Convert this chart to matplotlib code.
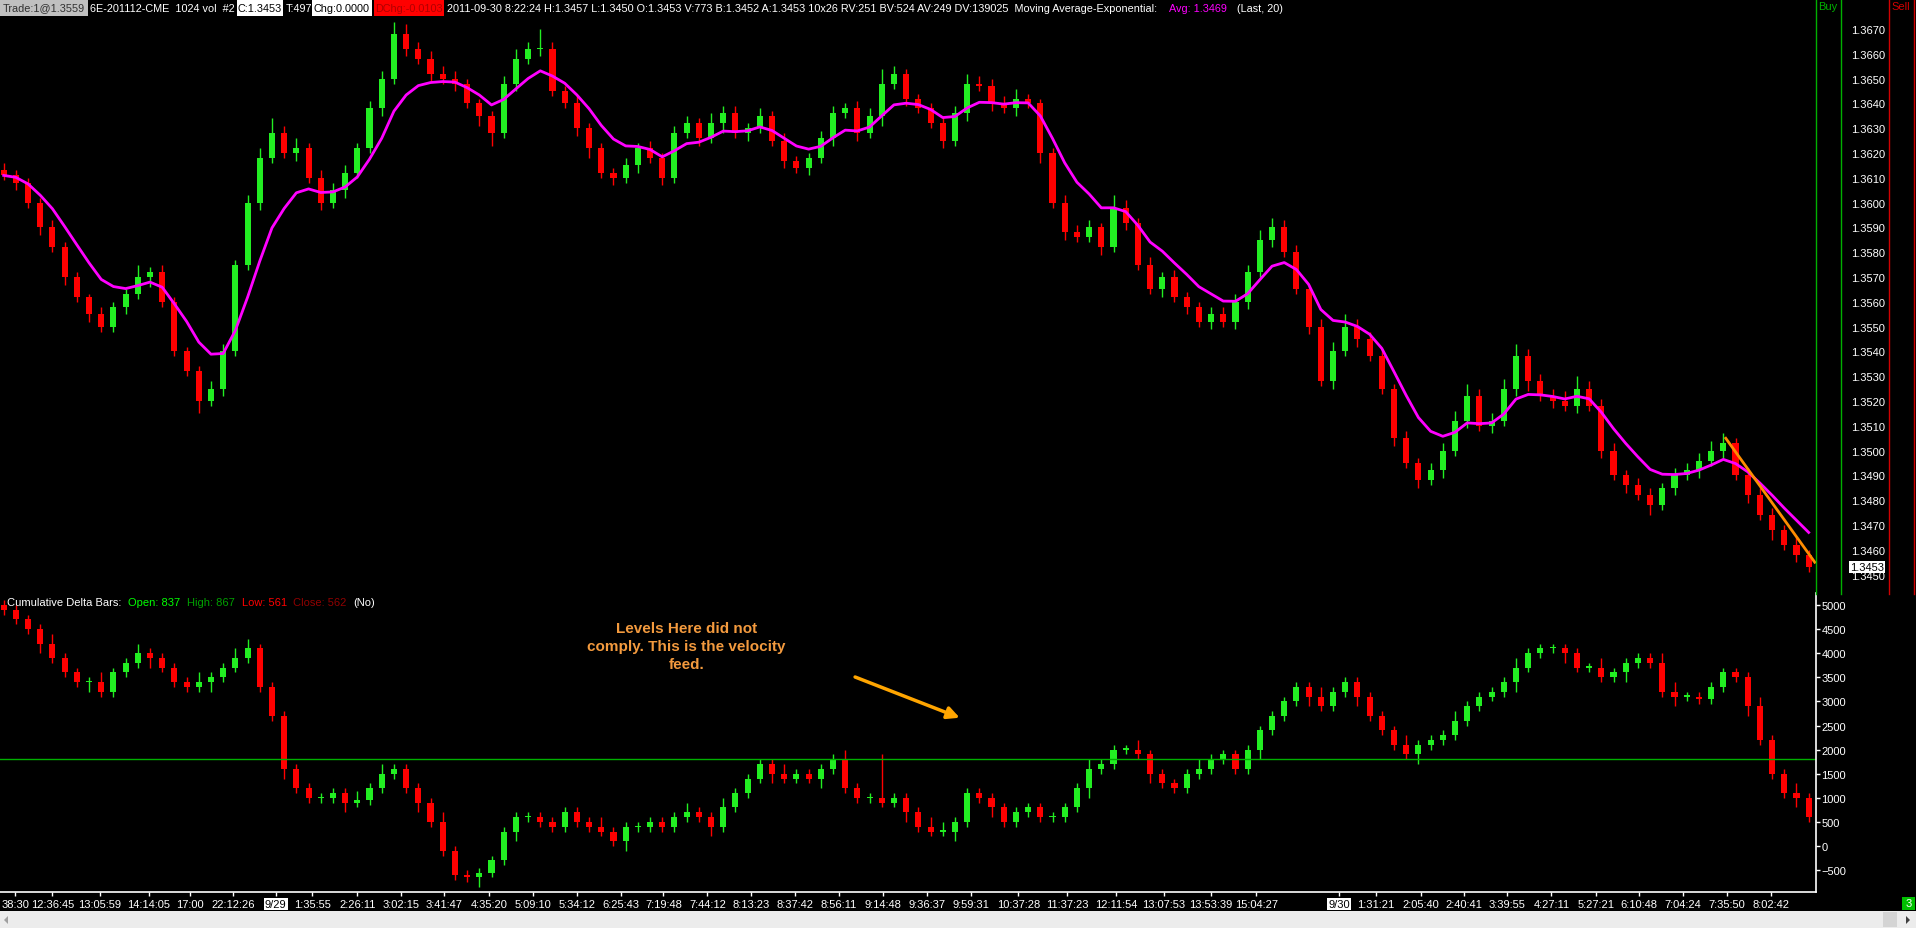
import numpy as np
import pandas as pd
import matplotlib
matplotlib.use('Agg')
import matplotlib.pyplot as plt
from matplotlib.patches import Rectangle, Polygon
from matplotlib.lines import Line2D
from matplotlib.transforms import blended_transform_factory

plt.rcParams['font.family'] = ['Liberation Sans', 'DejaVu Sans']

# 6E price bars, closes in pips above 1.3400 (open = previous close)
price_close = [211, 208, 200, 190, 182, 170, 162, 155, 150, 158,
               163, 170, 172, 160, 140, 132, 120, 125, 140, 175,
               200, 218, 228, 220, 222, 210, 200, 205, 212, 222,
               238, 250, 268, 262, 258, 252, 250, 248, 240, 235,
               228, 248, 258, 262, 262, 245, 240, 230, 222, 212,
               210, 215, 222, 218, 210, 228, 232, 226, 232, 236,
               228, 230, 235, 225, 217, 214, 218, 226, 236, 238,
               228, 235, 248, 252, 242, 238, 232, 225, 236, 248,
               247, 240, 238, 242, 240, 220, 200, 188, 186, 190,
               182, 198, 192, 175, 165, 170, 162, 158, 152, 155,
               152, 160, 172, 185, 190, 180, 165, 150, 128, 140,
               150, 145, 138, 125, 105, 95, 88, 92, 100, 112,
               122, 110, 112, 125, 138, 128, 122, 120, 118, 125,
               118, 100, 90, 86, 82, 78, 85, 90, 92, 96,
               100, 103, 90, 82, 74, 68, 62, 58, 53]
price_first_open = 213
# upper / lower wicks in pips, one digit per bar
price_up = ("3222322132" "2523222332" "3463423332" "3354333322" "2343832322"
            "2323233243" "3232322332" "3363222334" "3334222333" "2532323223"
            "3334433234" "5333232334" "5334533345" "3332332333" "442333232")
price_dn = ("2323232322" "3242225232" "2322323232" "2323232324" "5232322342"
            "3232322324" "2322323232" "3242322323" "2323242322" "3232232323"
            "2332322323" "2322323232" "3232342323" "2323242323" "232324232")

# cumulative delta closes
delta_close = [4900, 4700, 4500, 4200, 3900, 3600, 3400, 3400, 3200, 3600,
               3800, 4000, 3900, 3700, 3400, 3300, 3400, 3500, 3700, 3900,
               4100, 3300, 2700, 1600, 1200, 1000, 1000, 1100, 900, 950,
               1200, 1500, 1600, 1200, 900, 500, -100, -600, -650, -550,
               -300, 300, 600, 600, 500, 400, 700, 500, 400, 300,
               100, 400, 400, 500, 400, 600, 700, 600, 400, 800,
               1100, 1400, 1700, 1500, 1400, 1500, 1400, 1600, 1800, 1200,
               1000, 1000, 900, 1000, 700, 400, 300, 300, 500, 1100,
               1000, 800, 500, 700, 800, 600, 600, 800, 1200, 1600,
               1700, 2000, 2000, 1900, 1500, 1300, 1200, 1500, 1600, 1800,
               1900, 1600, 2000, 2400, 2700, 3000, 3300, 3100, 2900, 3200,
               3400, 3100, 2700, 2400, 2100, 1900, 2100, 2200, 2300, 2600,
               2900, 3100, 3200, 3400, 3700, 4000, 4100, 4100, 4000, 3700,
               3700, 3500, 3600, 3800, 3900, 3800, 3200, 3100, 3100, 3050,
               3300, 3600, 3500, 2900, 2200, 1500, 1100, 1000, 600]
delta_first_open = 5000
# wicks in hundreds
delta_up = ("1111211121" "1211112112" "2111111112" "1211112111" "1111111112"
            "1111112112" "1111211112" "1191112211" "1111111112" "1112111121"
            "1111111121" "1111121112" "1111211111" "1211112211" "111121121")
delta_dn = ("1112111211" "1121111211" "1112111121" "1111211112" "1121111111"
            "1211111121" "1112111211" "1111211121" "1211111112" "1111211111"
            "1112111211" "1211112111" "1111211121" "1112111211" "111211121")

time_labels = ["38:30", "12:36:45", "13:05:59", "14:14:05", "17:00", "22:12:26", "9/29",
               "1:35:55", "2:26:11", "3:02:15", "3:41:47", "4:35:20", "5:09:10", "5:34:12",
               "6:25:43", "7:19:48", "7:44:12", "8:13:23", "8:37:42", "8:56:11", "9:14:48",
               "9:36:37", "9:59:31", "10:37:28", "11:37:23", "12:11:54", "13:07:53",
               "13:53:39", "15:04:27", "9/30", "1:31:21", "2:05:40", "2:40:41", "3:39:55",
               "4:27:11", "5:27:21", "6:10:48", "7:04:24", "7:35:50", "8:02:42"]
time_bars = [0.95, 4.0, 7.9, 11.9, 15.3, 18.8, 22.3, 25.3, 29.0, 32.6, 36.1, 39.8, 43.4,
             47.0, 50.6, 54.1, 57.7, 61.3, 64.9, 68.5, 72.1, 75.7, 79.3, 83.2, 87.2, 91.2,
             95.1, 99.0, 102.7, 109.5, 112.5, 116.2, 119.7, 123.3, 126.9, 130.6, 134.1,
             137.7, 141.3, 144.9]

price_ticks = [1.3450 + 0.001 * k for k in range(23)]
delta_ticks = list(range(-500, 5001, 500))
level = 1800
last_price = 1.3453
trend_x = [141.2, 148.5]
trend_y = [1.3505, 1.3455]
ema_span = 6.7

UP = '#22ee22'
DN = '#ff0000'


def build(close, first_open, up, dn, unit):
    c = np.array(close, dtype=float)
    o = np.r_[first_open, c[:-1]]
    h = np.maximum(o, c) + np.array([int(d) for d in up]) * unit
    l = np.minimum(o, c) - np.array([int(d) for d in dn]) * unit
    return o, c, h, l


def candles(ax, o, c, h, l, minh):
    x = np.arange(len(c))
    col = np.where(c >= o, UP, DN)
    ax.vlines(x, l, h, colors=col, lw=1)
    body = np.maximum(np.abs(c - o), minh)
    ax.bar(x, body, bottom=np.minimum(o, c), width=0.5, color=col, linewidth=0)


W, H = 1916, 929
fig = plt.figure(figsize=(W / 100, H / 100), dpi=100, facecolor='black')


def fx(px):
    return px / W


def fy(py):
    return 1 - py / H


ax1 = fig.add_axes([0, fy(592), fx(1816), (592 - 12) / H], facecolor='black')
ax2 = fig.add_axes([0, fy(893), fx(1816), (893 - 594) / H], facecolor='black')

# price panel
po, pc, ph, pl = build(price_close, price_first_open, price_up, price_dn, 1)
po, pc, ph, pl = [1.34 + v / 10000 for v in (po, pc, ph, pl)]
candles(ax1, po, pc, ph, pl, 0.00003)
ema = pd.Series(pc).ewm(span=ema_span, adjust=False).mean()
ax1.plot(np.arange(len(pc)), ema, color='#ff00ff', lw=2)
ax1.plot(trend_x, trend_y, color='#ff8c00', lw=2)
ax1.set_xlim(-0.3, 148.6)
ax1.set_ylim(1.34434, 1.36773)
for s in ax1.spines.values():
    s.set_visible(False)
ax1.set_xticks([])
ax1.yaxis.tick_right()
ax1.set_yticks(price_ticks)
ax1.set_yticklabels([f"{v:.4f}" for v in price_ticks])
ax1.tick_params(axis='y', length=0, pad=25, labelsize=8, labelcolor='white')
tr = blended_transform_factory(ax1.transAxes, ax1.transData)
ax1.text(1 + 34 / 1816, last_price, f"{last_price:.4f}", transform=tr, ha='left', va='center',
         fontsize=8, color='black',
         bbox=dict(boxstyle='square,pad=0.1', fc='white', ec='none'), clip_on=False)

# delta panel
do, dc, dh, dl = build(delta_close, delta_first_open, delta_up, delta_dn, 100)
candles(ax2, do, dc, dh, dl, 25)
ax2.axhline(level, color='#00b000', lw=1)
ax2.set_xlim(-0.3, 148.6)
ax2.set_ylim(-954, 5249)
for k in ('top', 'left'):
    ax2.spines[k].set_visible(False)
for k in ('right', 'bottom'):
    ax2.spines[k].set_color('white')
    ax2.spines[k].set_linewidth(1.2)
ax2.yaxis.tick_right()
ax2.set_yticks(delta_ticks)
ax2.tick_params(axis='y', colors='white', length=3, width=1, pad=1, labelsize=8)
ax2.set_xticks(time_bars)
ax2.set_xticklabels(time_labels)
ax2.tick_params(axis='x', colors='white', length=3, width=1, pad=2, labelsize=8)
for t in ax2.get_xticklabels():
    if '/' in t.get_text():
        t.set_color('black')
        t.set_bbox(dict(boxstyle='square,pad=0.1', fc='white', ec='none'))

ax2.text(56.0, 4150, "Levels Here did not\ncomply. This is the velocity\nfeed.",
         ha='center', va='center', color='#f39a3e', fontsize=11, fontweight='bold',
         linespacing=1.4)
ax2.annotate('', xy=(78.6, 2640), xytext=(69.6, 3527),
             arrowprops=dict(arrowstyle='-|>', color='#ffa500', lw=2.5, mutation_scale=18))

# header line
def box(x0, x1, y0, y1, color):
    fig.add_artist(Rectangle((fx(x0), fy(y1)), fx(x1 - x0), (y1 - y0) / H,
                             transform=fig.transFigure, fc=color, ec='none'))


box(0, 88, 0, 17, '#c0c0c0')
box(237, 283, 0, 17, 'white')
box(312, 372, 0, 17, 'white')
box(374, 444, 0, 17, '#ff0000')
header = [("Trade:1@1.3559", 3, '#303030'),
          ("6E-201112-CME  1024 vol  #2", 90, 'white'),
          ("C:1.3453", 238, 'black'),
          ("T:497", 286, 'white'),
          ("Chg:0.0000", 313, 'black'),
          ("DChg:-0.0103", 375, '#b00000'),
          ("2011-09-30 8:22:24 H:1.3457 L:1.3450 O:1.3453 V:773 B:1.3452 A:1.3453 10x26 "
           "RV:251 BV:524 AV:249 DV:139025  Moving Average-Exponential:", 447, 'white'),
          ("Avg: 1.3469", 1169, '#ff00ff'),
          ("(Last, 20)", 1237, 'white')]
for txt, x, c in header:
    fig.text(fx(x), fy(8.5), txt, color=c, fontsize=7.8, ha='left', va='center')

sub = [("Cumulative Delta Bars:", 7, 'white'),
       ("Open: 837", 128, '#00ff00'),
       ("High: 867", 187, '#00a000'),
       ("Low: 561", 242, '#ff0000'),
       ("Close: 562", 293, '#900000'),
       ("(No)", 353, 'white')]
for txt, x, c in sub:
    fig.text(fx(x), fy(603), txt, color=c, fontsize=8, ha='left', va='center')

# buy / sell columns
for x, c in ((1816, '#00b000'), (1841, '#00b000'), (1889, '#d00000'), (1914, '#d00000')):
    fig.add_artist(Line2D([fx(x), fx(x)], [fy(0), fy(595)], transform=fig.transFigure,
                          color=c, lw=1))
fig.text(fx(1828), fy(7), "Buy", color='#00b000', fontsize=8, ha='center', va='center')
fig.text(fx(1901), fy(7), "Sell", color='#d00000', fontsize=8, ha='center', va='center')

# status box and scrollbar
box(1902, 1915, 898, 911, '#00c000')
fig.text(fx(1908.5), fy(904.5), "3", color='white', fontsize=8, ha='center', va='center')
box(0, 1916, 912, 929, '#ececec')
box(1883, 1897, 913, 928, '#d4d4d4')
fig.add_artist(Polygon([(fx(8), fy(917)), (fx(8), fy(925)), (fx(4), fy(921))],
                       transform=fig.transFigure, fc='#a0a0a0', ec='none'))
fig.add_artist(Polygon([(fx(1906), fy(917)), (fx(1906), fy(925)), (fx(1910), fy(921))],
                       transform=fig.transFigure, fc='#404040', ec='none'))

fig.savefig('out.png', dpi=100, facecolor='black')
